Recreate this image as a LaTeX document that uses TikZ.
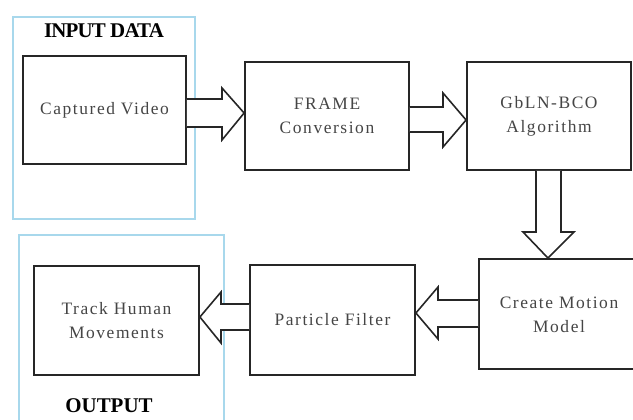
\documentclass[tikz,border=0pt]{standalone}
\usepackage{fontspec}
\setmainfont{Liberation Serif}
\newfontfamily\boxfont[LetterSpace=9]{Liberation Serif}
\usetikzlibrary{calc}
\definecolor{frameblue}{HTML}{A8D8EC}
\definecolor{boxline}{HTML}{262626}
\definecolor{boxtext}{HTML}{454545}
\tikzset{
  stepbox/.style={draw=boxline, line width=1.8pt, fill=white, rectangle, inner sep=0pt,
    align=center, text=boxtext, font=\boxfont\fontsize{17.5}{24}\selectfont},
  groupframe/.style={draw=frameblue, line width=1.6pt},
  grouptitle/.style={font=\bfseries\fontsize{21}{22}\selectfont, text=black, inner sep=0pt},
  blockarrow/.style={draw=boxline, line width=1.6pt, fill=white, line join=miter},
}
\begin{document}
\begin{tikzpicture}[x=1bp, y=-1bp]
\useasboundingbox (0,0) rectangle (633,419);
\clip (0,0) rectangle (633,419);
% group frames
\draw[groupframe] (13,17) rectangle (195,219);
\draw[groupframe] (19,235) rectangle (224,425);
\node[grouptitle] (tin) at (104,31) {\addfontfeatures{LetterSpace=-4}INPUT DATA};
\node[grouptitle, anchor=base] (tout) at (109,412) {OUTPUT};
% boxes
\node[stepbox, minimum width=163bp, minimum height=108bp] (cap) at (104.5,110) {Captured Video};
\node[stepbox, minimum width=164bp, minimum height=108bp] (frm) at (327,116) {FRAME\\Conversion};
\node[stepbox, minimum width=164bp, minimum height=108bp] (gbl) at (549,116) {GbLN-BCO\\Algorithm};
\node[stepbox, minimum width=170bp, minimum height=110bp] (mot) at (564,314) {};
\node[text=boxtext, font=\boxfont\fontsize{17.5}{24}\selectfont, align=center] (motl) at (559,315) {Create Motion\\Model};
\node[stepbox, minimum width=165bp, minimum height=110bp] (par) at (332.5,320) {Particle Filter};
\node[stepbox, minimum width=165bp, minimum height=109bp] (trk) at (116.5,320.5) {Track Human\\Movements};
% block arrows
\draw[blockarrow] (cap.east |- 0,99) -- (222,99) -- (222,88) -- (frm.west |- 0,113)
  -- (222,140) -- (222,127) -- (cap.east |- 0,127);
\draw[blockarrow] (frm.east |- 0,107) -- (443,107) -- (443,93) -- (gbl.west |- 0,120)
  -- (443,147) -- (443,132) -- (frm.east |- 0,132);
\draw[blockarrow] (536,0 |- gbl.south) -- (536,232) -- (523,232) -- (548,0 |- mot.north)
  -- (574,232) -- (561,232) -- (561,0 |- gbl.south);
\draw[blockarrow] (mot.west |- 0,300) -- (438,300) -- (438,287) -- (par.east |- 0,313)
  -- (438,339) -- (438,327) -- (mot.west |- 0,327);
\draw[blockarrow] (par.west |- 0,304) -- (221,304) -- (221,292) -- (trk.east |- 0,317)
  -- (221,343) -- (221,330) -- (par.west |- 0,330);
\end{tikzpicture}
\end{document}
